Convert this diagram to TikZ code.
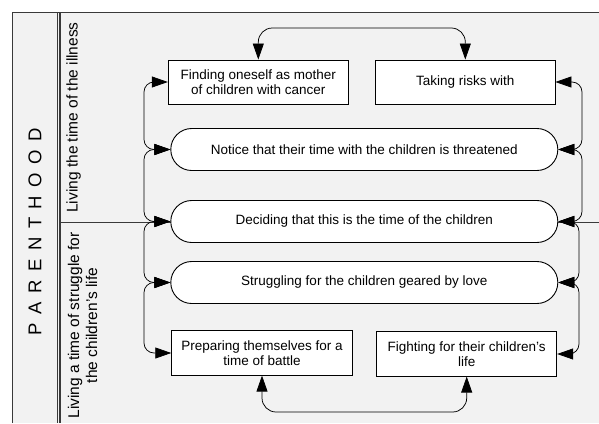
\documentclass[tikz,border=0pt]{standalone}
\usepackage{fontspec}
\setmainfont{Liberation Sans}
\usetikzlibrary{arrows.meta}
\definecolor{lanebg}{HTML}{F2F2F2}
\definecolor{frameln}{HTML}{3A3A3A}
\tikzset{
  boxtext/.style={font=\fontsize{13.5}{15.5}\selectfont, align=center, inner sep=0pt},
  sqbox/.style={boxtext, draw=black, fill=white, line width=0.9pt, minimum width=180pt, minimum height=44pt},
  rndbox/.style={boxtext, draw=black, fill=white, line width=0.9pt, minimum width=387pt, minimum height=42pt, rounded corners=20.9pt},
  conn/.style={draw=black, line width=0.75pt, rounded corners=10pt, {Triangle[length=16pt,width=11pt]}-{Triangle[length=16pt,width=11pt]}},
  frame/.style={draw=frameln, line width=1.2pt},
  lanelabel/.style={font=\fontsize{15.5}{18}\selectfont, align=center, inner sep=0pt, rotate=90},
}
\begin{document}
\begin{tikzpicture}[x=1pt,y=-1pt]
\useasboundingbox (0,0) rectangle (599,423);
\fill[white] (0,0) rectangle (599,423);
\fill[lanebg] (12.7,12.7) rectangle (599,423);
% frame
\draw[frame] (12.7,423) -- (12.7,12.7) -- (599,12.7);
\draw[frame] (57.3,12.7) -- (57.3,423);
\draw[frame] (60,12.7) -- (60,423);
\draw[frame] (60,222.7) -- (599,222.7);
% labels
\node[font=\fontsize{18.5}{20}\selectfont, rotate=90, inner sep=0pt] (parent) at (35,231.5)
  {P\hspace{8.5pt}A\hspace{8.5pt}R\hspace{8.5pt}E\hspace{8.5pt}N\hspace{8.5pt}T\hspace{8.5pt}H\hspace{8.5pt}O\hspace{8.5pt}O\hspace{8.5pt}D};
\node[lanelabel] (lane1) at (73.5,117.5) {Living the time of the illness};
\node[lanelabel] (lane2) at (82.5,325.5) {Living a time of struggle for\\the children's life};
% boxes
\node[sqbox] (fo) at (258.3,82) {Finding oneself as mother\\of children with cancer};
\node[sqbox, minimum width=179.3pt] (tr) at (465.3,82) {Taking risks with};
\node[rndbox] (no) at (364.3,149.5) {Notice that their time with the children is threatened};
\node[rndbox] (de) at (364.3,221.5) {Deciding that this is the time of the children};
\node[rndbox] (st) at (364.3,282.5) {Struggling for the children geared by love};
\node[sqbox, minimum width=180.6pt, minimum height=44.3pt] (pr) at (262,353) {Preparing themselves for a\\time of battle};
\node[sqbox, minimum height=44.3pt] (fi) at (466.7,354) {Fighting for their children's\\life};
% helper coordinates
\coordinate (lx) at (144,0);
\coordinate (rxa) at (582,0);
\coordinate (rxb) at (579,0);
\coordinate (ty) at (0,28);
\coordinate (by) at (0,412);
% left connectors
\draw[conn] (fo.west) -- (fo.west -| lx) -- (no.west -| lx) -- (no.west);
\draw[conn] (no.west) -- (no.west -| lx) -- (de.west -| lx) -- (de.west);
\draw[conn] (de.west) -- (de.west -| lx) -- (st.west -| lx) -- (st.west);
\draw[conn] (st.west) -- (st.west -| lx) -- (pr.west -| lx) -- (pr.west);
% right connectors
\draw[conn] (tr.east) -- (tr.east -| rxa) -- (no.east -| rxa) -- (no.east);
\draw[conn] (no.east) -- (no.east -| rxa) -- (de.east -| rxa) -- (de.east);
\draw[conn] (de.east) -- (de.east -| rxb) -- (st.east -| rxb) -- (st.east);
\draw[conn] (st.east) -- (st.east -| rxb) -- (fi.east -| rxb) -- (fi.east);
% top and bottom connectors
\draw[conn, rounded corners=14pt] (fo.north) -- (fo.north |- ty) -- (tr.north |- ty) -- (tr.north);
\draw[conn, rounded corners=14pt] (pr.south) -- (pr.south |- by) -- (fi.south |- by) -- (fi.south);
\end{tikzpicture}
\end{document}
